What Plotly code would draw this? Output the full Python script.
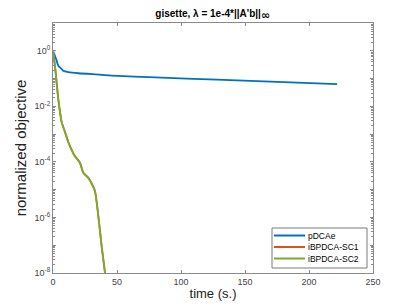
import numpy as np
import plotly.graph_objects as go

# pDCAe
t_blue = [0, 1, 2.8, 4.1, 6.8, 8, 12, 20, 37, 46, 80, 128, 170, 222]
v_blue = [1.0, 0.78, 0.45, 0.29, 0.22, 0.19, 0.17, 0.155, 0.138, 0.128, 0.11, 0.091, 0.078, 0.063]

# iBPDCA-SC1
t_sc1 = [0, 1.5, 2.8, 4.1, 5.5, 6.8, 9.4, 12, 14.3, 17, 21, 23.7, 27.6, 30, 32.8, 35.4, 38, 40.6, 41.5]
v_sc1 = [1.0, 0.3, 0.076, 0.019, 0.0062, 0.0027, 0.0012, 5.2e-4, 2.9e-4, 1.65e-4, 9.5e-5, 4.1e-5, 2.7e-5, 1.75e-5, 9e-6, 1.15e-6, 9.5e-8, 1.05e-8, 4e-9]

# iBPDCA-SC2
t_sc2 = [0, 1.5, 2.8, 4.1, 5.5, 6.8, 9.4, 12, 14.3, 17, 21, 23.7, 27.6, 30, 32.8, 35.4, 38, 40.6, 41.5]
v_sc2 = [1.0, 0.29, 0.074, 0.018, 0.006, 0.0026, 0.00115, 5e-4, 2.8e-4, 1.6e-4, 9.3e-5, 4e-5, 2.6e-5, 1.7e-5, 8.7e-6, 1.1e-6, 9e-8, 1e-8, 4e-9]

series_names = ["pDCAe", "iBPDCA-SC1", "iBPDCA-SC2"]
series_colors = ["#0072BD", "#D95319", "#77AC30"]

x_ticks = [0, 50, 100, 150, 200, 250]
y_major = [1e1, 1e0, 1e-1, 1e-2, 1e-3, 1e-4, 1e-5, 1e-6, 1e-7, 1e-8]
y_text = ["", "10<sup>0</sup>", "", "10<sup>-2</sup>", "", "10<sup>-4</sup>", "", "10<sup>-6</sup>", "", "10<sup>-8</sup>"]
y_minor = [m * 10.0 ** e for e in range(-8, 1) for m in range(2, 10)]

fig = go.Figure()
for (tx, vy), nm, col in zip([(t_blue, v_blue), (t_sc1, v_sc1), (t_sc2, v_sc2)], series_names, series_colors):
    fig.add_trace(go.Scatter(x=tx, y=vy, mode="lines", name=nm,
                             line=dict(color=col, width=1.8, shape="spline", smoothing=0.6),
                             showlegend=False))

# MATLAB-style compact legend (box, line samples, labels) in paper coords
W, H = 409, 306
L, R, T, B = 53, 36, 23, 33
pw, ph = W - L - R, H - T - B
def px(x):
    return (x - L) / pw
def py(y):
    return (H - B - y) / ph

fig.add_shape(type="rect", xref="paper", yref="paper",
              x0=px(272), x1=px(367), y0=py(268), y1=py(228),
              line=dict(color="#7a7a7a", width=1), fillcolor="white", layer="above")
for i, (nm, col) in enumerate(zip(series_names, series_colors)):
    yy = 235.5 + i * 11.5
    fig.add_shape(type="line", xref="paper", yref="paper",
                  x0=px(274), x1=px(305), y0=py(yy), y1=py(yy),
                  line=dict(color=col, width=2), layer="above")
    fig.add_annotation(text=nm, xref="paper", yref="paper", x=px(306), y=py(yy),
                       xanchor="left", yanchor="middle", showarrow=False,
                       font=dict(size=8.5, color="#000"))

axis_col = "#8a8a8a"
fig.update_layout(
    width=W, height=H,
    margin=dict(l=L, r=R, t=T, b=B, autoexpand=False),
    paper_bgcolor="white", plot_bgcolor="white",
    font=dict(family="Liberation Sans, Arial, sans-serif", color="#262626"),
    title=dict(text="<b>gisette, λ = 1e-4*||A'b||</b><sub><span style='font-family:DejaVu Sans;font-size:11px'><b>∞</b></span></sub>",
               x=0.52, xanchor="center", y=0.955, yanchor="middle",
               font=dict(size=10, color="#000")),
    showlegend=False,
)
fig.update_xaxes(
    range=[0, 250], tickvals=x_ticks, ticks="inside", ticklen=3,
    tickcolor=axis_col, showline=True, linecolor=axis_col, linewidth=1,
    mirror="ticks", showgrid=False, zeroline=False, automargin=False,
    tickfont=dict(size=9, color="#444"),
    title=dict(text="time (s.)", font=dict(size=13, color="#222"), standoff=3),
)
fig.update_yaxes(
    type="log", range=[-8, 1], tickvals=y_major, ticktext=y_text,
    ticks="inside", ticklen=3, tickcolor=axis_col,
    showline=True, linecolor=axis_col, linewidth=1, mirror="ticks",
    showgrid=False, zeroline=False, automargin=False,
    tickfont=dict(size=9, color="#444"),
    minor=dict(tickvals=y_minor, ticks="inside", ticklen=2, tickcolor=axis_col, showgrid=False),
    title=dict(text="normalized objective", font=dict(size=15, color="#222"), standoff=4),
)

fig.write_html("out.html", config={"displayModeBar": False},
               post_script="document.body.style.margin='0';")
